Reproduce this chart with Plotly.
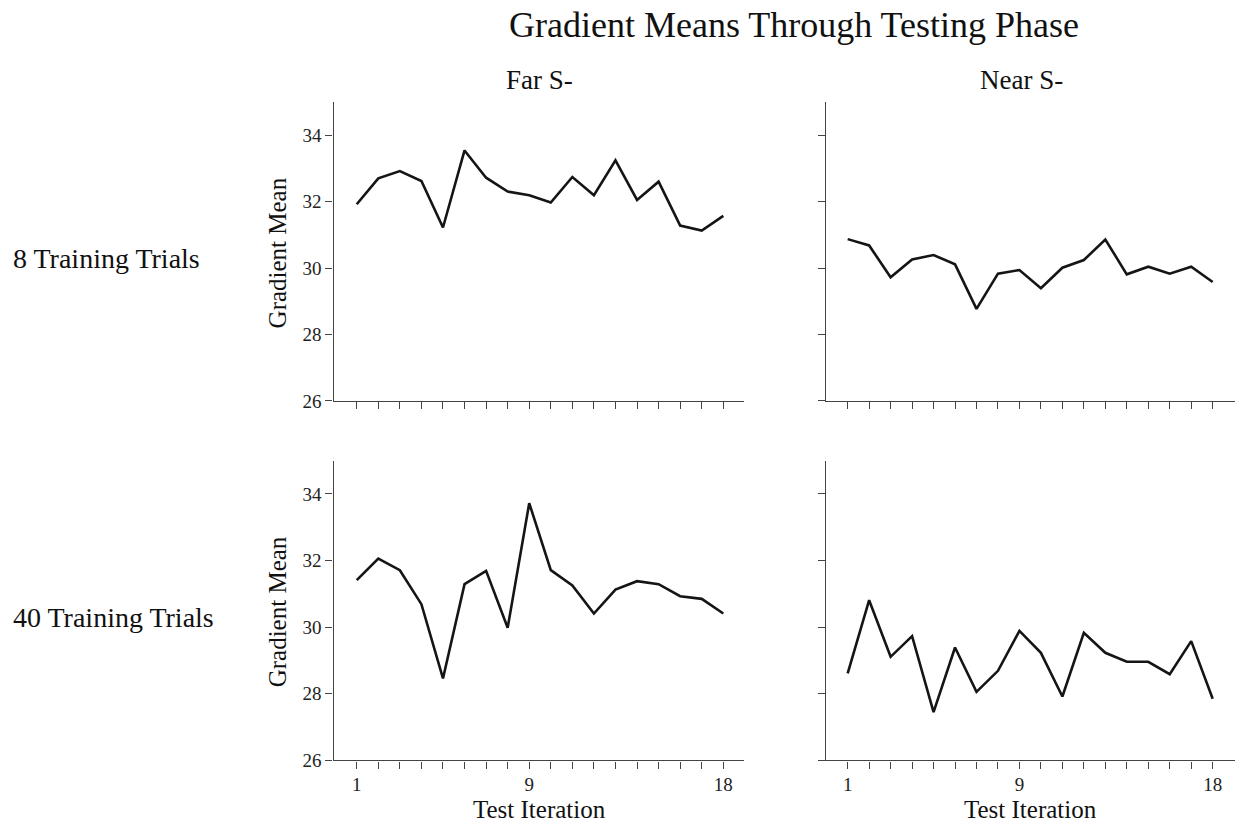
import plotly.graph_objects as go

iterations = list(range(1, 19))
far_8 = [31.92, 32.70, 32.92, 32.62, 31.22, 33.54, 32.72, 32.30, 32.19, 31.97, 32.74, 32.19, 33.24, 32.05, 32.60, 31.28, 31.13, 31.57]
near_8 = [30.87, 30.68, 29.72, 30.26, 30.39, 30.11, 28.77, 29.83, 29.94, 29.39, 30.01, 30.24, 30.86, 29.81, 30.04, 29.83, 30.04, 29.58]
far_40 = [31.41, 32.06, 31.71, 30.69, 28.46, 31.29, 31.69, 29.98, 33.72, 31.71, 31.25, 30.41, 31.13, 31.38, 31.29, 30.93, 30.85, 30.41]
near_40 = [28.61, 30.81, 29.11, 29.73, 27.45, 29.39, 28.06, 28.69, 29.89, 29.23, 27.92, 29.83, 29.23, 28.96, 28.96, 28.59, 29.58, 27.85]

col_titles = ["Far S-", "Near S-"]
row_titles = ["8 Training Trials", "40 Training Trials"]
y_ticks = [26, 28, 30, 32, 34]
x_tick_labels = {1: "1", 9: "9", 18: "18"}
title = "Gradient Means Through Testing Phase"
y_title = "Gradient Mean"
x_title = "Test Iteration"

W, H = 1241, 826
K = 0.987  # observed vertical scale correction
FONT = "Liberation Serif"
AX = "#444444"

def px(x):
    return x / W

def py(y):
    return 1 - (y / K) / H

fig = go.Figure()

panels = [
    (far_8, "x", "y"),
    (near_8, "x2", "y2"),
    (far_40, "x3", "y3"),
    (near_40, "x4", "y4"),
]
for vals, xa, ya in panels:
    fig.add_trace(go.Scatter(x=iterations, y=vals, mode="lines",
                             line=dict(color="#151515", width=2.6),
                             xaxis=xa, yaxis=ya, showlegend=False))

x_dom_left = [px(333.5), px(744)]
x_dom_right = [px(826), px(1235)]
y_dom_top = [py(401), py(102)]
y_dom_bot = [py(760.7), py(460.7)]

ticktext_bottom = [x_tick_labels.get(i, "") for i in iterations]

def xaxis(domain, anchor, rng, labels):
    return dict(domain=domain, anchor=anchor, range=rng,
                tickmode="array", tickvals=iterations,
                ticktext=ticktext_bottom if labels else [""] * len(iterations),
                showticklabels=labels,
                ticks="outside", ticklen=7, tickwidth=1.2, tickcolor=AX,
                showline=True, linecolor=AX, linewidth=1.2,
                showgrid=False, zeroline=False,
                tickfont=dict(family=FONT, size=19, color="#222"))

def yaxis(domain, anchor, labels):
    return dict(domain=domain, anchor=anchor, range=[26, 35],
                tickmode="array", tickvals=y_ticks,
                ticktext=[str(v) for v in y_ticks],
                showticklabels=labels,
                ticks="outside", ticklen=7, tickwidth=1.2, tickcolor=AX,
                showline=True, linecolor=AX, linewidth=1.2,
                showgrid=False, zeroline=False,
                tickfont=dict(family=FONT, size=19, color="#222"))

rng_left = [-0.077, 18.96]
rng_right = [-0.01, 19.04]

fig.update_layout(
    width=W, height=H,
    margin=dict(l=0, r=0, t=0, b=0),
    paper_bgcolor="white", plot_bgcolor="white",
    xaxis=xaxis(x_dom_left, "y", rng_left, False),
    xaxis2=xaxis(x_dom_right, "y2", rng_right, False),
    xaxis3=xaxis(x_dom_left, "y3", rng_left, True),
    xaxis4=xaxis(x_dom_right, "y4", rng_right, True),
    yaxis=yaxis(y_dom_top, "x", True),
    yaxis2=yaxis(y_dom_top, "x2", False),
    yaxis3=yaxis(y_dom_bot, "x3", True),
    yaxis4=yaxis(y_dom_bot, "x4", False),
)

ann = []
def text(s, x, y, size, xanchor="center", angle=0):
    ann.append(dict(text=s, x=px(x), y=py(y), xref="paper", yref="paper",
                    xanchor=xanchor, yanchor="middle", showarrow=False,
                    textangle=angle,
                    font=dict(family=FONT, size=size, color="#111")))

text(title, 794, 25, 36)
text(col_titles[0], 539, 80, 27)
text(col_titles[1], 1021, 80, 27)
text(row_titles[0], 11, 259, 28, xanchor="left")
text(row_titles[1], 11, 618, 28, xanchor="left")
text(y_title, 277.5, 253, 25, angle=-90)
text(y_title, 277.5, 612, 25, angle=-90)
text(x_title, 539, 810, 25)
text(x_title, 1030, 810, 25)

fig.update_layout(annotations=ann)
fig.write_html("out.html")
